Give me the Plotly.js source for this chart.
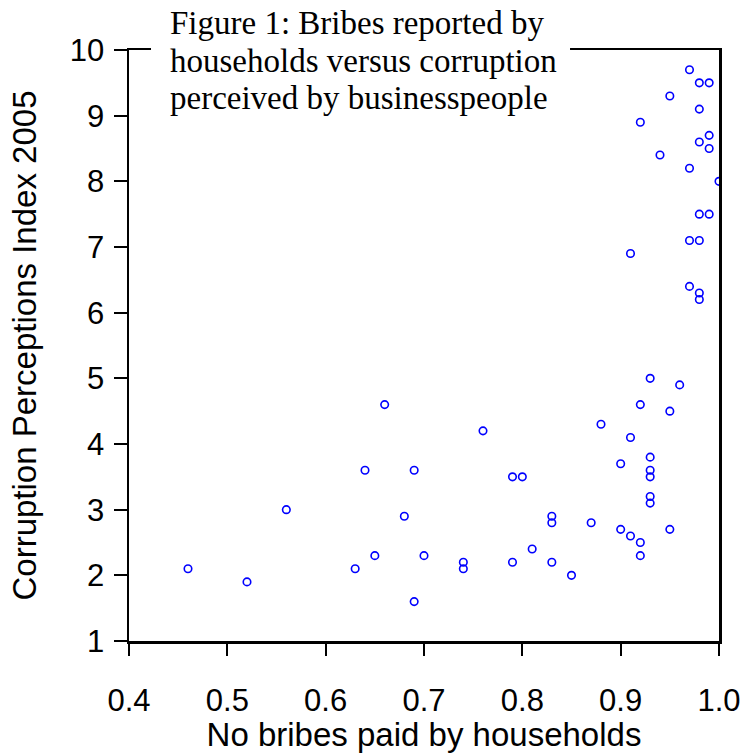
<!DOCTYPE html>
<html>
<head>
<meta charset="utf-8">
<script src="https://cdn.plot.ly/plotly-3.0.1.min.js"></script>
<style>html,body{margin:0;padding:0;background:#fff;}#chart{width:741px;height:753px;}</style>
</head>
<body>
<div id="chart"></div>
<script>
// Share of households paying no bribes vs. Corruption Perceptions Index 2005
const noBribes = [0.97,0.98,0.99,0.95,0.98,0.92,0.99,0.98,0.99,0.94,0.97,1.00,0.98,0.99,0.97,0.98,0.91,0.97,0.98,0.98,
  0.93,0.96,0.92,0.95,0.88,0.91,0.93,0.90,0.93,0.93,0.93,0.93,0.87,0.90,0.95,0.91,0.92,0.92,
  0.66,0.76,0.64,0.69,0.79,0.80,0.83,0.83,0.68,0.81,0.65,0.70,0.63,0.74,0.74,0.79,0.83,0.85,0.69,
  0.46,0.52,0.56];
const cpi2005 = [9.7,9.5,9.5,9.3,9.1,8.9,8.7,8.6,8.5,8.4,8.2,8.0,7.5,7.5,7.1,7.1,6.9,6.4,6.3,6.2,
  5.0,4.9,4.6,4.5,4.3,4.1,3.8,3.7,3.6,3.5,3.2,3.1,2.8,2.7,2.7,2.6,2.5,2.3,
  4.6,4.2,3.6,3.6,3.5,3.5,2.9,2.8,2.9,2.4,2.3,2.3,2.1,2.2,2.1,2.2,2.2,2.0,1.6,
  2.1,1.9,3.0];
const titleLines = ["Figure 1: Bribes reported by", "households versus corruption", "perceived by businesspeople"];
const xTicks = [0.4,0.5,0.6,0.7,0.8,0.9,1.0];
const xTickText = ["0.4","0.5","0.6","0.7","0.8","0.9","1.0"];
const yTicks = [1,2,3,4,5,6,7,8,9,10];

const sans = "Liberation Sans, Arial, Helvetica, sans-serif";
const serif = "Liberation Serif, Times New Roman, serif";

const trace = {
  x: noBribes, y: cpi2005, type: 'scatter', mode: 'markers',
  marker: {symbol: 'circle-open', size: 7.5, color: '#0000ff', line: {width: 1.6, color: '#0000ff'}},
  cliponaxis: true, hoverinfo: 'x+y'
};

const lineY = [1.0457, 0.9822, 0.9188];
const annotations = titleLines.map((t, i) => ({
  text: t, xref: 'paper', yref: 'paper', x: 0.0661, y: lineY[i],
  xanchor: 'left', yanchor: 'middle', showarrow: false, align: 'left',
  font: {family: serif, size: 33, color: '#000'}
}));

const layout = {
  width: 741, height: 753,
  margin: {l: 129, r: 22, t: 50, b: 112},
  paper_bgcolor: '#fff', plot_bgcolor: '#fff',
  showlegend: false,
  font: {family: sans, color: '#000'},
  xaxis: {
    range: [0.4, 1.0], tickvals: xTicks, ticktext: xTickText,
    ticks: 'outside', ticklen: 12, tickwidth: 2, tickcolor: '#000',
    ticklabelstandoff: 18,
    showline: true, linewidth: 2.5, linecolor: '#000', mirror: true,
    showgrid: false, zeroline: false,
    tickfont: {family: sans, size: 31, color: '#000'},
    title: {text: 'No bribes paid by households', font: {family: sans, size: 33, color: '#000'}, standoff: 8}
  },
  yaxis: {
    range: [1, 10], tickvals: yTicks,
    ticks: 'outside', ticklen: 13, tickwidth: 2, tickcolor: '#000',
    ticklabelstandoff: 3,
    showline: true, linewidth: 2.5, linecolor: '#000', mirror: true,
    showgrid: false, zeroline: false,
    tickfont: {family: sans, size: 31, color: '#000'},
    title: {text: 'Corruption Perceptions Index 2005', font: {family: sans, size: 33, color: '#000'}, standoff: 24}
  },
  shapes: [{
    type: 'rect', xref: 'paper', yref: 'paper', layer: 'above',
    x0: 0.0373, x1: 0.7475, y0: 0.985, y1: 1.015,
    fillcolor: '#fff', line: {width: 0}
  }],
  annotations: annotations
};

Plotly.newPlot('chart', [trace], layout, {displayModeBar: false, staticPlot: true});
</script>
</body>
</html>
